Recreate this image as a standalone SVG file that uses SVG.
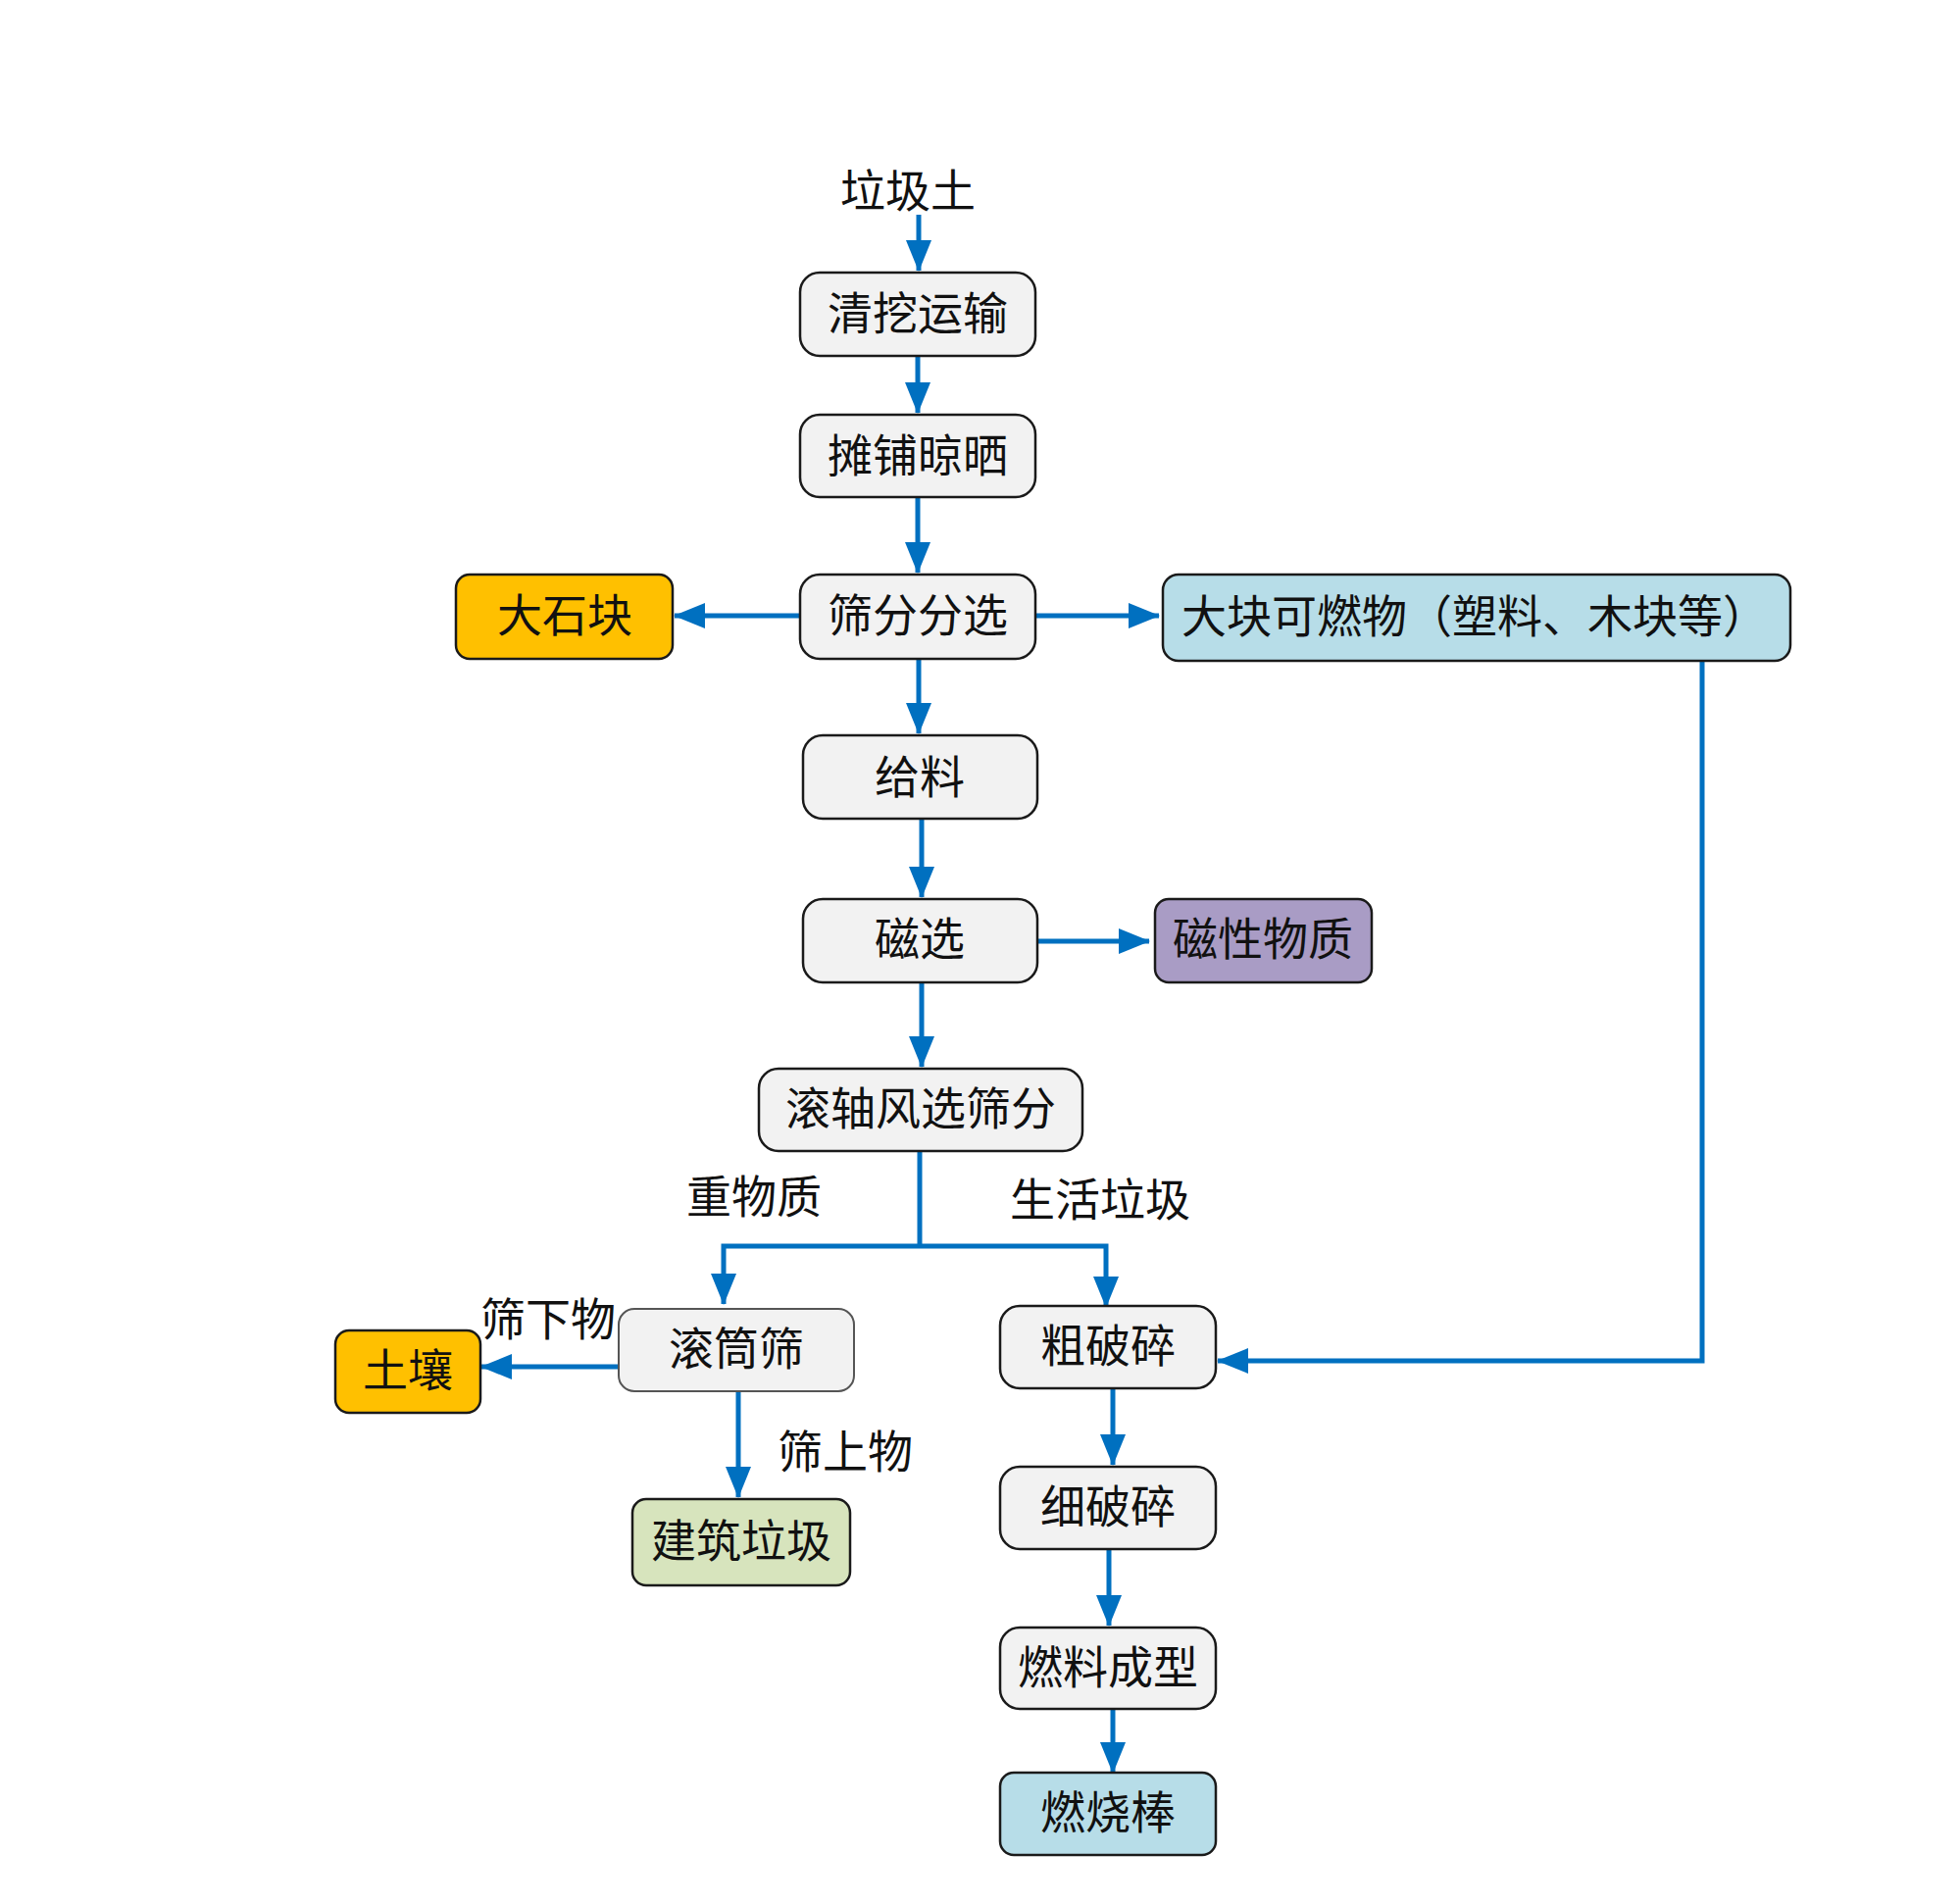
<svg xmlns="http://www.w3.org/2000/svg" width="1999" height="1942" viewBox="0 0 1999 1942">
<style>
.box{stroke:#1a1a1a;stroke-width:2.5}
.g{fill:#F2F2F2}
.o{fill:#FFC000}
.b{fill:#B7DDE8}
.p{fill:#A99CC5}
.gr{fill:#D7E4BD}
text{font-family:"Liberation Serif","Noto Sans CJK SC",serif;font-size:46px;fill:#111;text-anchor:middle;dominant-baseline:central}
.c{fill:none;stroke:#0070C0;stroke-width:5}
.a{marker-end:url(#ah)}
</style>
<defs>
<marker id="ah" markerUnits="userSpaceOnUse" markerWidth="32" markerHeight="26" refX="31" refY="13" orient="auto">
<path d="M0,0 L32,13 L0,26 z" fill="#0070C0"/>
</marker>
</defs>
<rect width="1999" height="1942" fill="#fff"/>
<g id="connectors">
<line class="c a" x1="937" y1="219" x2="937" y2="276"/>
<line class="c a" x1="936" y1="363" x2="936" y2="421"/>
<line class="c a" x1="936" y1="507" x2="936" y2="584"/>
<line class="c a" x1="816" y1="628" x2="688" y2="628"/>
<line class="c a" x1="1056" y1="628" x2="1182" y2="628"/>
<line class="c a" x1="937" y1="672" x2="937" y2="748"/>
<line class="c a" x1="940" y1="835" x2="940" y2="915"/>
<line class="c a" x1="1058" y1="960" x2="1172" y2="960"/>
<line class="c a" x1="940" y1="1002" x2="940" y2="1088"/>
<polyline class="c" points="938,1174 938,1271"/>
<polyline class="c a" points="938,1271 738,1271 738,1330"/>
<polyline class="c a" points="938,1271 1128,1271 1128,1333"/>
<line class="c a" x1="631" y1="1394" x2="491" y2="1394"/>
<line class="c a" x1="753" y1="1419" x2="753" y2="1527"/>
<polyline class="c a" points="1736,674 1736,1388 1242,1388"/>
<line class="c a" x1="1135" y1="1416" x2="1135" y2="1494"/>
<line class="c a" x1="1131" y1="1580" x2="1131" y2="1658"/>
<line class="c a" x1="1135" y1="1743" x2="1135" y2="1808"/>
</g>
<g id="label-laji-tu"><text x="926" y="195">垃圾土</text></g>
<g id="n-qingwa"><rect class="box g" x="816" y="278" width="240" height="85" rx="20"/><text x="936" y="320">清挖运输</text></g>
<g id="n-tanpu"><rect class="box g" x="816" y="423" width="240" height="84" rx="20"/><text x="936" y="465">摊铺晾晒</text></g>
<g id="n-shaifen"><rect class="box g" x="816" y="586" width="240" height="86" rx="20"/><text x="936" y="628">筛分分选</text></g>
<g id="n-dashikuai"><rect class="box o" x="465" y="586" width="221" height="86" rx="14"/><text x="576" y="628">大石块</text></g>
<g id="n-dakuai"><rect class="box b" x="1186" y="586" width="640" height="88" rx="16"/><text x="1504" y="629">大块可燃物（塑料、木块等）</text></g>
<g id="n-geiliao"><rect class="box g" x="819" y="750" width="239" height="85" rx="20"/><text x="938" y="793">给料</text></g>
<g id="n-cixuan"><rect class="box g" x="819" y="917" width="239" height="85" rx="20"/><text x="938" y="958">磁选</text></g>
<g id="n-cixing"><rect class="box p" x="1178" y="917" width="221" height="85" rx="14"/><text x="1288" y="958">磁性物质</text></g>
<g id="n-gunzhou"><rect class="box g" x="774" y="1090" width="330" height="84" rx="20"/><text x="939" y="1131">滚轴风选筛分</text></g>
<g id="label-zhongwuzhi"><text x="769" y="1221">重物质</text></g>
<g id="label-shenghuo"><text x="1122" y="1224">生活垃圾</text></g>
<g id="n-guntong"><rect x="631" y="1335" width="240" height="84" rx="16" fill="#F2F2F2" stroke="#555" stroke-width="2"/><text x="751" y="1376">滚筒筛</text></g>
<g id="label-shaixia"><text x="559" y="1346">筛下物</text></g>
<g id="n-turang"><rect class="box o" x="342" y="1357" width="148" height="84" rx="14"/><text x="416" y="1398">土壤</text></g>
<g id="label-shaishang"><text x="862" y="1481">筛上物</text></g>
<g id="n-jianzhu"><rect class="box gr" x="645" y="1529" width="222" height="88" rx="14"/><text x="756" y="1572">建筑垃圾</text></g>
<g id="n-cupo"><rect class="box g" x="1020" y="1332" width="220" height="84" rx="20"/><text x="1130" y="1373">粗破碎</text></g>
<g id="n-xipo"><rect class="box g" x="1020" y="1496" width="220" height="84" rx="20"/><text x="1130" y="1537">细破碎</text></g>
<g id="n-ranliao"><rect class="box g" x="1020" y="1660" width="220" height="83" rx="20"/><text x="1130" y="1701">燃料成型</text></g>
<g id="n-ranshao"><rect class="box b" x="1020" y="1808" width="220" height="84" rx="14"/><text x="1130" y="1849">燃烧棒</text></g>
</svg>
